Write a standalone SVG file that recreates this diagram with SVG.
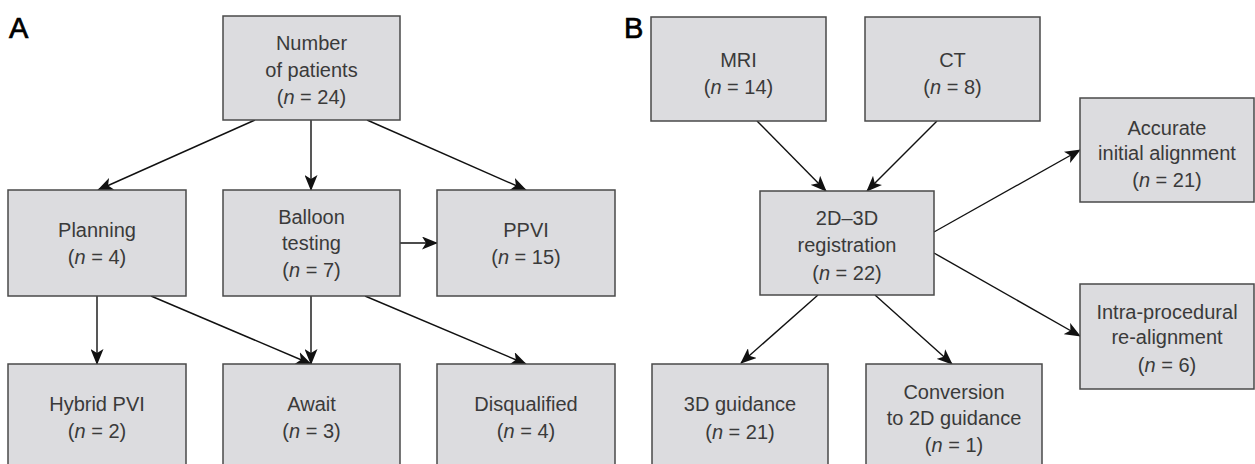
<svg xmlns="http://www.w3.org/2000/svg" width="1255" height="464" viewBox="0 0 1255 464">
<style>
.box{fill:#dcdcdf;stroke:#4a4a4a;stroke-width:1.5}
.t{font-family:"Liberation Sans",Arial,sans-serif;font-size:20px;fill:#3a3a3a;text-anchor:middle}
.i{font-style:italic}
.lbl{font-family:"Liberation Sans",Arial,sans-serif;font-size:29px;fill:#000;stroke:#000;stroke-width:0.7}
.c{stroke:#111;stroke-width:1.4;fill:none;marker-end:url(#ah)}
</style>
<defs>
<marker id="ah" viewBox="0 0 16 13" markerWidth="16" markerHeight="13" refX="15" refY="6.5" orient="auto" markerUnits="userSpaceOnUse">
<path d="M0,0 L16,6.5 L0,13 L4,6.5 z" fill="#111"/>
</marker>
</defs>
<rect width="1255" height="464" fill="#fff"/>
<text class="lbl" x="9" y="38">A</text>
<text class="lbl" x="624" y="38">B</text>

<g id="connectors">
<line class="c" x1="255" y1="120" x2="98" y2="190"/>
<line class="c" x1="311" y1="120" x2="311" y2="190"/>
<line class="c" x1="367" y1="120" x2="526" y2="190"/>
<line class="c" x1="400" y1="243" x2="437" y2="243"/>
<line class="c" x1="97" y1="296" x2="97" y2="364"/>
<line class="c" x1="151" y1="296" x2="311" y2="364"/>
<line class="c" x1="311" y1="296" x2="311" y2="364"/>
<line class="c" x1="365" y1="296" x2="526" y2="364"/>

<line class="c" x1="757" y1="121" x2="826" y2="191"/>
<line class="c" x1="937" y1="121" x2="867" y2="191"/>
<line class="c" x1="934" y1="232" x2="1080" y2="150"/>
<line class="c" x1="934" y1="253" x2="1080" y2="336"/>
<line class="c" x1="818" y1="295" x2="741" y2="363"/>
<line class="c" x1="875" y1="295" x2="952" y2="364"/>
</g>

<g id="n-total"><rect class="box" x="223" y="16" width="177" height="104"/>
<text class="t" x="311.5" y="50">Number</text><text class="t" x="311.5" y="77">of patients</text><text class="t" x="311.5" y="104">(<tspan class="i">n</tspan> = 24)</text></g>
<g id="n-planning"><rect class="box" x="8" y="190" width="178" height="106"/>
<text class="t" x="97" y="237">Planning</text><text class="t" x="97" y="264">(<tspan class="i">n</tspan> = 4)</text></g>
<g id="n-balloon"><rect class="box" x="223" y="190" width="177" height="106"/>
<text class="t" x="311.5" y="224">Balloon</text><text class="t" x="311.5" y="250">testing</text><text class="t" x="311.5" y="277">(<tspan class="i">n</tspan> = 7)</text></g>
<g id="n-ppvi"><rect class="box" x="437" y="190" width="178" height="106"/>
<text class="t" x="526" y="237">PPVI</text><text class="t" x="526" y="264">(<tspan class="i">n</tspan> = 15)</text></g>
<g id="n-hybrid"><rect class="box" x="8" y="364" width="178" height="110"/>
<text class="t" x="97" y="411">Hybrid PVI</text><text class="t" x="97" y="438">(<tspan class="i">n</tspan> = 2)</text></g>
<g id="n-await"><rect class="box" x="223" y="364" width="177" height="110"/>
<text class="t" x="311.5" y="411">Await</text><text class="t" x="311.5" y="438">(<tspan class="i">n</tspan> = 3)</text></g>
<g id="n-disq"><rect class="box" x="437" y="364" width="178" height="110"/>
<text class="t" x="526" y="411">Disqualified</text><text class="t" x="526" y="438">(<tspan class="i">n</tspan> = 4)</text></g>

<g id="n-mri"><rect class="box" x="651" y="17" width="175" height="104"/>
<text class="t" x="738.5" y="67">MRI</text><text class="t" x="738.5" y="94">(<tspan class="i">n</tspan> = 14)</text></g>
<g id="n-ct"><rect class="box" x="865" y="17" width="175" height="104"/>
<text class="t" x="952.5" y="67">CT</text><text class="t" x="952.5" y="94">(<tspan class="i">n</tspan> = 8)</text></g>
<g id="n-reg"><rect class="box" x="760" y="191" width="174" height="104"/>
<text class="t" x="847" y="225">2D–3D</text><text class="t" x="847" y="252">registration</text><text class="t" x="847" y="280">(<tspan class="i">n</tspan> = 22)</text></g>
<g id="n-accurate"><rect class="box" x="1080" y="98" width="174" height="104"/>
<text class="t" x="1167" y="135">Accurate</text><text class="t" x="1167" y="160">initial alignment</text><text class="t" x="1167" y="187">(<tspan class="i">n</tspan> = 21)</text></g>
<g id="n-intra"><rect class="box" x="1080" y="284" width="174" height="105"/>
<text class="t" x="1167" y="319">Intra-procedural</text><text class="t" x="1167" y="344">re-alignment</text><text class="t" x="1167" y="372">(<tspan class="i">n</tspan> = 6)</text></g>
<g id="n-3d"><rect class="box" x="652" y="364" width="176" height="110"/>
<text class="t" x="740" y="411">3D guidance</text><text class="t" x="740" y="439">(<tspan class="i">n</tspan> = 21)</text></g>
<g id="n-conv"><rect class="box" x="866" y="364" width="176" height="110"/>
<text class="t" x="954" y="399">Conversion</text><text class="t" x="954" y="425">to 2D guidance</text><text class="t" x="954" y="452">(<tspan class="i">n</tspan> = 1)</text></g>
</svg>
